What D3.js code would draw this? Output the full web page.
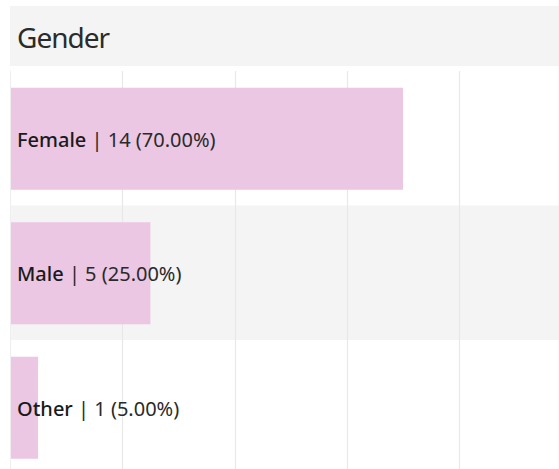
<!DOCTYPE html>
<html>
<head>
<meta charset="utf-8">
<script src="https://cdn.jsdelivr.net/npm/d3@7"></script>
<style>
  html, body { margin: 0; padding: 0; background: #fff; }
  svg { display: block; }
</style>
</head>
<body>
<svg id="chart" width="559" height="469"></svg>
<script>
const title = "Gender";
const categories = ["Female", "Male", "Other"];
const counts = [14, 5, 1];
const percents = ["70.00%", "25.00%", "5.00%"];
const gridTicks = [0, 4, 8, 12, 16];

const W = 559, H = 469;
const svg = d3.select("#chart");
const font = "'Noto Sans', 'Open Sans', sans-serif";

// title band
svg.append("rect").attr("x", 10).attr("y", 6).attr("width", W - 10).attr("height", 60).attr("fill", "#f4f4f4");
svg.append("text").attr("x", 17).attr("y", 47.5)
  .attr("font-family", font).attr("font-size", 28).attr("font-weight", 400)
  .attr("letter-spacing", -1)
  .attr("fill", "#2b2b2b").text(title);

const x = d3.scaleLinear().domain([0, 16]).range([10, 459.2]);
const y = d3.scaleBand().domain(categories).range([71, 71 + 3 * 134.5]).paddingInner(0).paddingOuter(0);

const rows = categories.map((c, i) => ({ cat: c, count: counts[i], pct: percents[i], i }));

// alternating row bands
svg.append("g").selectAll("rect").data(rows.filter(d => d.i % 2 === 1)).join("rect")
  .attr("x", 10).attr("width", W - 10)
  .attr("y", d => y(d.cat)).attr("height", y.bandwidth())
  .attr("fill", "#f4f4f4");

// gridlines
svg.append("g").selectAll("line").data(gridTicks).join("line")
  .attr("x1", d => Math.round(x(d)) + 0.5).attr("x2", d => Math.round(x(d)) + 0.5)
  .attr("y1", 71).attr("y2", H)
  .attr("stroke", d => d === 0 ? "#efefef" : "#e8e8e8").attr("stroke-width", 1.2);

// bars
const barH = 102;
svg.append("g").selectAll("rect").data(rows).join("rect")
  .attr("x", x(0) + 1)
  .attr("y", d => y(d.cat) + (y.bandwidth() - barH) / 2 + 0.5)
  .attr("width", d => x(d.count) - x(0) - 1)
  .attr("height", barH)
  .attr("fill", "#ebc7e3");

// labels
const lab = svg.append("g").selectAll("text").data(rows).join("text")
  .attr("x", 17)
  .attr("y", d => y(d.cat) + y.bandwidth() / 2 + 8.5)
  .attr("font-family", font).attr("font-size", 20).attr("fill", "#1a1a1a");
lab.append("tspan").attr("font-weight", 500).text(d => d.cat + " ");
lab.append("tspan").attr("font-weight", 400).attr("fill", "#2a2a2a").text(d => "| " + d.count + " (" + d.pct + ")");
</script>
</body>
</html>
